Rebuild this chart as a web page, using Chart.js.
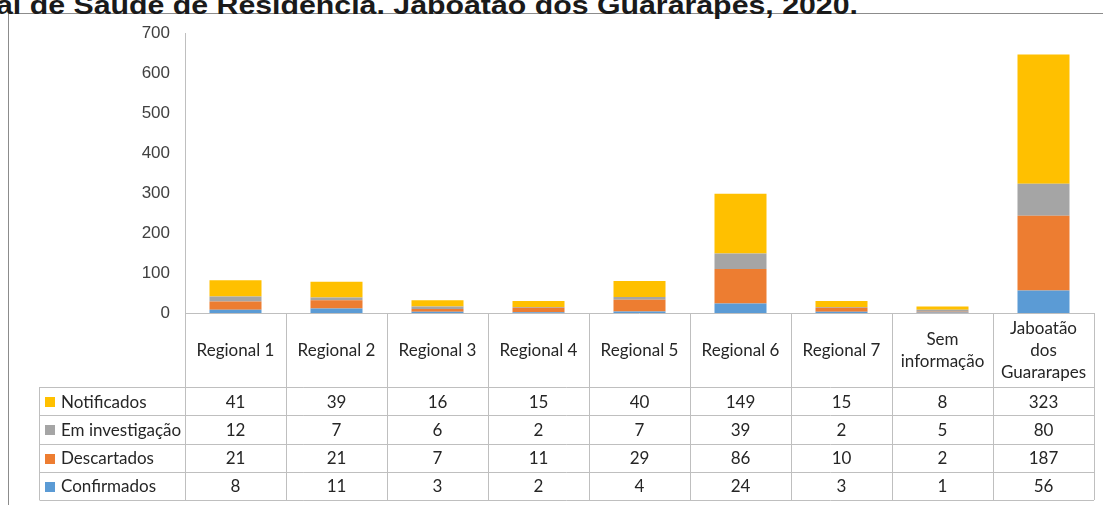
<!DOCTYPE html>
<html>
<head>
<meta charset="utf-8">
<script src="https://cdn.jsdelivr.net/npm/chart.js@4"></script>
<style>
  html, body { margin: 0; padding: 0; background: #fff; overflow: hidden; }
  #wrap { position: relative; width: 1103px; height: 505px; overflow: hidden; }
  #frame { position: absolute; left: 8px; top: 13px; width: 1200px; height: 600px;
           border-top: 1px solid #8c8c8c; border-left: 1px solid #8c8c8c; }
  #title { position: absolute; left: -4px; top: -10px; white-space: nowrap; line-height: 1;
           font: bold 26px "Liberation Sans", Arial, sans-serif; color: #1a1a1a;
           transform: scaleX(1.165); transform-origin: 0 0; }
  #chart { position: absolute; left: 0; top: 0; }
</style>
</head>
<body>
<div id="wrap">
  <div id="frame"></div>
  <div id="title">al de Saúde de Residência. Jaboatão dos Guararapes, 2020.</div>
  <canvas id="chart" width="1103" height="505"></canvas>
</div>
<script>
// --- DATA ---
const categories = ['Regional 1', 'Regional 2', 'Regional 3', 'Regional 4', 'Regional 5',
                    'Regional 6', 'Regional 7', 'Sem informação', 'Jaboatão dos Guararapes'];
// linhas do cabeçalho da tabela (quebra como no original)
const headerLines = [['Regional 1'], ['Regional 2'], ['Regional 3'], ['Regional 4'], ['Regional 5'],
                     ['Regional 6'], ['Regional 7'], ['Sem', 'informação'], ['Jaboatão', 'dos', 'Guararapes']];

const confirmados    = [8, 11, 3, 2, 4, 24, 3, 1, 56];
const descartados    = [21, 21, 7, 11, 29, 86, 10, 2, 187];
const emInvestigacao = [12, 7, 6, 2, 7, 39, 2, 5, 80];
const notificados    = [41, 39, 16, 15, 40, 149, 15, 8, 323];

const yTicks = [0, 100, 200, 300, 400, 500, 600, 700];

const COLORS = {
    notificados: '#FFC000',
    investigacao: '#A5A5A5',
    descartados: '#ED7D31',
    confirmados: '#5B9BD5'
};

// ordem das linhas na tabela (de cima para baixo)
const tableRows = [
    { label: 'Notificados', data: notificados, color: COLORS.notificados },
    { label: 'Em investigação', data: emInvestigacao, color: COLORS.investigacao },
    { label: 'Descartados', data: descartados, color: COLORS.descartados },
    { label: 'Confirmados', data: confirmados, color: COLORS.confirmados }
];

// --- TABELA DE DADOS ABAIXO DO GRÁFICO ---
const dataTablePlugin = {
    id: 'dataTable',
    afterDraw(chart) {
        const ctx = chart.ctx;
        const area = chart.chartArea;
        const xs = chart.scales.x;
        const n = categories.length;
        const colW = (area.right - area.left) / n;
        const top = area.bottom;
        const headerH = 74;
        const rowH = 28.25;
        const legendLeft = 39.5;
        const rowsTop = top + headerH;
        const bottom = rowsTop + rowH * tableRows.length;

        ctx.save();
        ctx.strokeStyle = '#BFBFBF';
        ctx.lineWidth = 1;
        ctx.beginPath();
        // linha do eixo x
        ctx.moveTo(area.left, Math.round(top) + 0.5);
        ctx.lineTo(area.right, Math.round(top) + 0.5);
        // separadores verticais
        for (let i = 0; i <= n; i++) {
            const x = Math.round(area.left + i * colW) + 0.5;
            ctx.moveTo(x, top);
            ctx.lineTo(x, bottom);
        }
        // coluna da legenda
        ctx.moveTo(legendLeft, rowsTop);
        ctx.lineTo(legendLeft, bottom);
        // linhas horizontais
        for (let r = 0; r <= tableRows.length; r++) {
            const y = Math.round(rowsTop + r * rowH) + 0.5;
            ctx.moveTo(legendLeft, y);
            ctx.lineTo(area.right, y);
        }
        ctx.stroke();

        ctx.fillStyle = '#262626';
        ctx.font = '17px Lato, "Noto Sans", sans-serif';
        ctx.textAlign = 'center';
        ctx.textBaseline = 'middle';

        // cabeçalho
        headerLines.forEach((lines, i) => {
            const cx = xs.getPixelForValue(i);
            const cy = top + headerH / 2 + 1;
            const lh = 22;
            lines.forEach((t, k) => {
                ctx.fillText(t, cx, cy + (k - (lines.length - 1) / 2) * lh);
            });
        });

        // valores
        tableRows.forEach((row, r) => {
            const cy = rowsTop + r * rowH + rowH / 2 + 1;
            row.data.forEach((v, i) => {
                ctx.fillText(String(v), xs.getPixelForValue(i), cy);
            });
            ctx.fillStyle = row.color;
            ctx.fillRect(45, Math.round(cy - 5), 10, 10);
            ctx.fillStyle = '#262626';
            ctx.textAlign = 'left';
            ctx.fillText(row.label, 61, cy);
            ctx.textAlign = 'center';
        });
        ctx.restore();
    }
};

// --- GRÁFICO ---
function makeDataset(label, data, color) {
    return {
        label: label,
        data: data,
        backgroundColor: color,
        borderWidth: 0,
        categoryPercentage: 1,
        barPercentage: 0.515,
        stack: 'total'
    };
}

new Chart(document.getElementById('chart'), {
    type: 'bar',
    data: {
        labels: categories,
        datasets: [
            makeDataset('Confirmados', confirmados, COLORS.confirmados),
            makeDataset('Descartados', descartados, COLORS.descartados),
            makeDataset('Em investigação', emInvestigacao, COLORS.investigacao),
            makeDataset('Notificados', notificados, COLORS.notificados)
        ]
    },
    options: {
        responsive: false,
        animation: false,
        devicePixelRatio: 1,
        layout: { padding: { left: 0, right: 9, top: 33, bottom: 192 } },
        plugins: {
            legend: { display: false },
            tooltip: { enabled: false },
            title: { display: false }
        },
        scales: {
            x: {
                stacked: true,
                display: false
            },
            y: {
                stacked: true,
                min: 0,
                max: 700,
                afterFit(scale) { scale.width = 185; },
                afterBuildTicks(scale) { scale.ticks = yTicks.map(v => ({ value: v })); },
                grid: { display: false, drawTicks: false },
                border: { display: true, color: '#BFBFBF', width: 1 },
                ticks: {
                    padding: 15,
                    color: '#404040',
                    font: { family: '"Liberation Sans", Arial', size: 17 }
                }
            }
        }
    },
    plugins: [dataTablePlugin]
});
</script>
</body>
</html>
